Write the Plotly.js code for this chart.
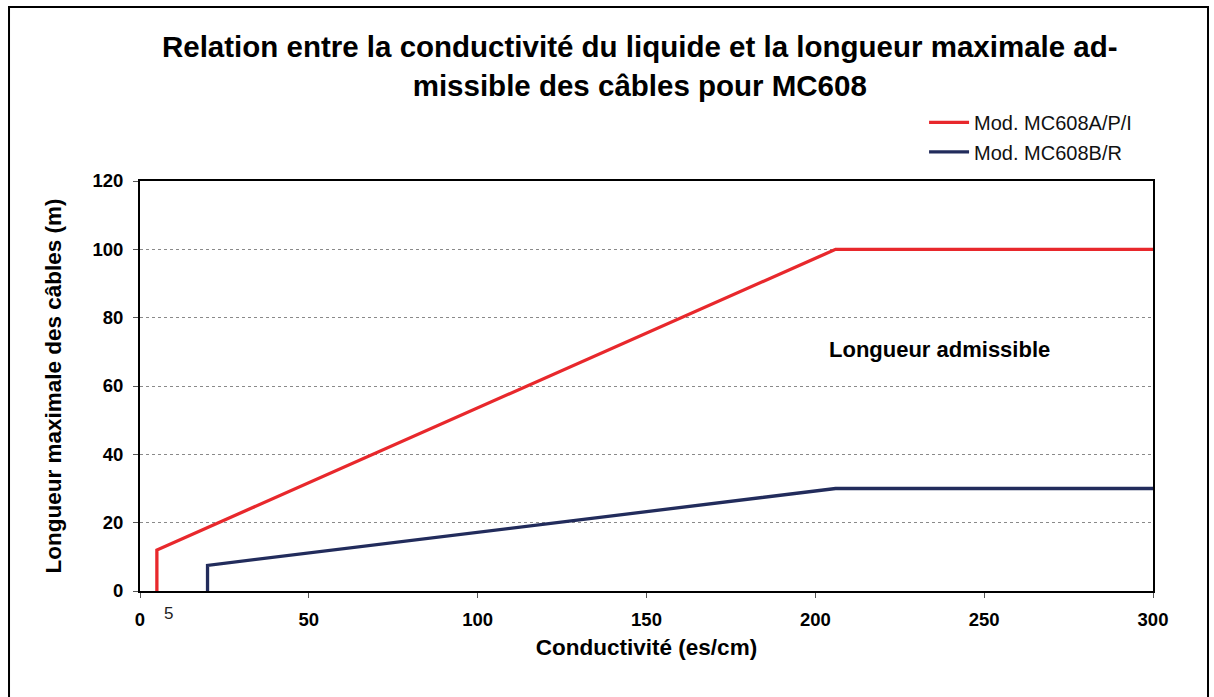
<!DOCTYPE html>
<html>
<head>
<meta charset="utf-8">
<script src="https://cdn.plot.ly/plotly-3.0.1.min.js"></script>
<style>html,body{margin:0;padding:0;background:#fff;}#chart{width:1214px;height:697px;}</style>
</head>
<body>
<div id="chart"></div>
<script>
// ---- data ----
const seriesNames = ['Mod. MC608A/P/I', 'Mod. MC608B/R'];
const conductivityA = [5, 5, 206, 300];
const lengthA = [0, 12, 100, 100];
const conductivityB = [20, 20, 206, 300];
const lengthB = [0, 7.5, 30, 30];
const xTickValues = [0, 50, 100, 150, 200, 250, 300];
const yTickValues = [0, 20, 40, 60, 80, 100, 120];
const titleText = 'Relation entre la conductivité du liquide et la longueur maximale ad-<br>missible des câbles pour MC608';
const xTitle = 'Conductivité (es/cm)';
const yTitle = 'Longueur maximale des câbles (m)';
const zoneLabel = 'Longueur admissible';
const startLabel = '5';

const FONT = '"Liberation Sans", Arial, Helvetica, sans-serif';

const traces = [
  {x: conductivityA, y: lengthA, name: seriesNames[0], mode: 'lines', type: 'scatter',
   line: {color: '#E8282C', width: 3.3}, legend: 'legend'},
  {x: conductivityB, y: lengthB, name: seriesNames[1], mode: 'lines', type: 'scatter',
   line: {color: '#222C5C', width: 3.3}, legend: 'legend2'}
];

const legendCommon = {
  xref: 'paper', yref: 'paper', xanchor: 'left', yanchor: 'middle',
  bgcolor: 'rgba(0,0,0,0)', borderwidth: 0, itemwidth: 40,
  font: {family: FONT, size: 20, color: '#111'}
};

const layout = {
  width: 1214, height: 697,
  margin: {l: 140, r: 61, t: 181, b: 106},
  paper_bgcolor: '#fff', plot_bgcolor: '#fff',
  title: {text: titleText, xref: 'container', x: 0.527, yref: 'container', y: 0.918, yanchor: 'top',
          font: {family: FONT, size: 29.5, color: '#000', weight: 'bold'}},
  showlegend: true,
  legend: Object.assign({}, legendCommon, {x: 0.774, y: 1.143}),
  legend2: Object.assign({}, legendCommon, {x: 0.774, y: 1.071}),
  xaxis: {
    range: [0, 300], tickvals: xTickValues, ticktext: xTickValues.map(String),
    showgrid: false, zeroline: false, showline: true, linecolor: '#000', linewidth: 2, mirror: true,
    ticks: 'outside', ticklen: 5, tickwidth: 1, tickcolor: '#555',
    ticklabelstandoff: 6,
    tickfont: {family: FONT, size: 18.5, color: '#000', weight: 'bold'},
    title: {text: xTitle, standoff: 10, font: {family: FONT, size: 22.5, color: '#000', weight: 'bold'}}
  },
  yaxis: {
    range: [0, 120], tickvals: yTickValues, ticktext: yTickValues.map(String),
    showgrid: true, gridcolor: '#8a8a8a', gridwidth: 1, griddash: 'dot',
    zeroline: false, showline: true, linecolor: '#000', linewidth: 2, mirror: true,
    ticks: 'outside', ticklen: 5, tickwidth: 1, tickcolor: '#555',
    ticklabelstandoff: 6,
    tickfont: {family: FONT, size: 18.5, color: '#000', weight: 'bold'},
    title: {text: yTitle, standoff: 25, font: {family: FONT, size: 22.5, color: '#000', weight: 'bold'}}
  },
  annotations: [
    {x: 236.8, y: 70.8, xref: 'x', yref: 'y', text: zoneLabel, showarrow: false,
     xanchor: 'center', yanchor: 'middle', font: {family: FONT, size: 22, color: '#000', weight: 'bold'}},
    {x: 8.3, y: -0.0537, xref: 'x', yref: 'paper', text: startLabel, showarrow: false,
     xanchor: 'center', yanchor: 'middle', font: {family: FONT, size: 17, color: '#222'}}
  ],
  shapes: [
    {type: 'rect', xref: 'paper', yref: 'paper', x0: -0.1293, x1: 1.0543, y0: -0.35, y1: 1.4244,
     line: {color: '#000', width: 2}, fillcolor: 'rgba(0,0,0,0)', layer: 'below'}
  ]
};

Plotly.newPlot('chart', traces, layout, {displayModeBar: false, staticPlot: true});
</script>
</body>
</html>
